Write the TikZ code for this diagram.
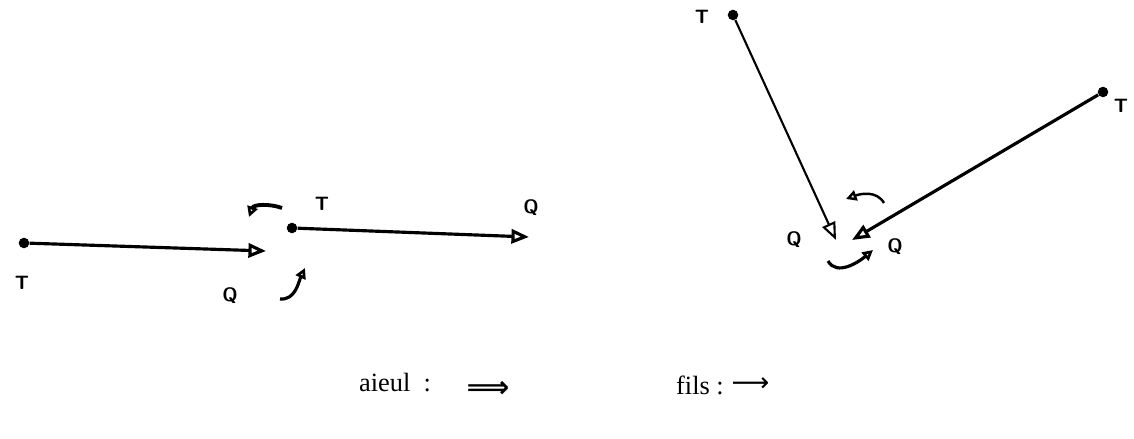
\documentclass[tikz,border=0pt]{standalone}
\usepackage{fontspec}
\setmainfont{Liberation Serif}
\newfontfamily\fleches{DejaVu Sans}
\usetikzlibrary{arrows.meta, positioning}

\begin{document}
\begin{tikzpicture}[
    x=0.02cm,
    y=-0.02cm,
    >={Triangle[open, length=10pt, width=8pt]},
    bout/.style={
        circle,
        fill=black,
        inner sep=0pt,
        minimum size=6pt
    },
    lien/.style={
        draw=black,
        line width=1.8pt,
        ->
    },
    tour/.style={
        draw=black,
        line width=1.8pt,
        ->,
        >={Triangle[open, length=6pt, width=6pt]}
    },
    lettre/.style={
        font=\sffamily\bfseries\fontsize{11}{13}\selectfont,
        text=black
    },
    legende/.style={
        font=\fontsize{15}{18}\selectfont,
        text=black,
        inner sep=1pt
    }
]
\useasboundingbox (0,0) rectangle (1134,439);

% Left pair
\node[bout] (T1) at (24,243) {};
\node[lettre] (lT1) at (22,283) {T};
\coordinate (Q1) at (266,251);
\node[lettre] (lQ1) at (230,296) {Q};

\node[bout] (T2) at (292,228) {};
\node[lettre] (lT2) at (322,204) {T};
\coordinate (Q2) at (529,237);
\node[lettre] (lQ2) at (531,208) {Q};

\path (T1) edge[lien] (Q1);
\path (T2) edge[lien] (Q2);

% Left rotations
\coordinate (a1) at (282,208);
\coordinate (a2) at (249,217);
\draw[tour, line width=2.2pt] (a1) to[out=160, in=70] (a2);
\coordinate (b1) at (280,299);
\coordinate (b2) at (305,268);
\draw[tour] (b1) to[out=-5, in=-115] (b2);

% Right pair
\node[bout] (T3) at (733,15) {};
\node[lettre] (lT3) at (702,17) {T};
\coordinate (Q3) at (836,240);
\node[lettre] (lQ3) at (794,240) {Q};

\node[bout] (T4) at (1103,92) {};
\node[lettre] (lT4) at (1121,106) {T};
\coordinate (Q4) at (852,240);
\node[lettre] (lQ4) at (895,247) {Q};

\path (T3) edge[lien, line width=1.2pt] (Q3);
\path (T4) edge[lien] (Q4);

% Right rotations
\coordinate (c1) at (884,203);
\coordinate (c2) at (846,199);
\draw[tour, line width=1.4pt] (c1) to[out=120, in=20] (c2);
\coordinate (d1) at (828,261);
\coordinate (d2) at (873,250);
\draw[tour] (d1) to[out=-60, in=-140] (d2);

% Legend
\node[legende] (aieul) at (395,383) {aieul\ \ :};
\node[legende, font=\fleches\bfseries\fontsize{17}{20}\selectfont] (impl) at (488,389) {⟹};
\node[legende] (fils) at (700,385) {fils :};
\node[legende, font=\fleches\fontsize{15}{18}\selectfont, right=2pt of fils] (fleche) {⟶};

\end{tikzpicture}
\end{document}
